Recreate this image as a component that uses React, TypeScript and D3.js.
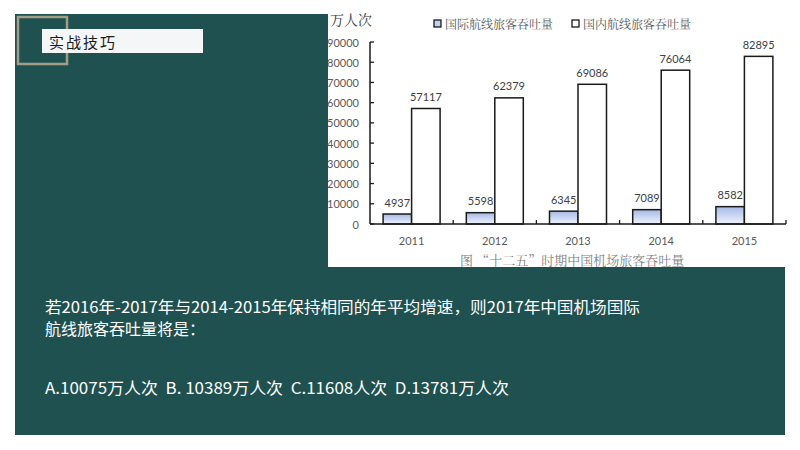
import * as d3 from "d3";

const years = ["2011", "2012", "2013", "2014", "2015"];
const seriesNames = ["国际航线旅客吞吐量", "国内航线旅客吞吐量"];
const international = [4937, 5598, 6345, 7089, 8582];
const domestic = [57117, 62379, 69086, 76064, 82895];
const yTicks = [0, 10000, 20000, 30000, 40000, 50000, 60000, 70000, 80000, 90000];

const unitLabel = "万人次";
const caption = "图  “十二五”时期中国机场旅客吞吐量";
const badge = "实战技巧";
const questionLines = [
  "若2016年-2017年与2014-2015年保持相同的年平均增速，则2017年中国机场国际",
  "航线旅客吞吐量将是：",
];
const optionsLine = "A.10075万人次  B. 10389万人次  C.11608人次  D.13781万人次";

const W = 800;
const H = 450;
const teal = "#1f5150";
const axisColor = "#1a1a1a";
const labelColor = "#595959";
const serif = "'Noto Serif CJK SC', 'Noto Sans CJK SC', serif";
const numFont = "Lato, 'Liberation Sans', sans-serif";
const sans = "'Noto Sans CJK SC', 'Liberation Sans', sans-serif";

export default function App() {
  const plot = { left: 370, right: 786, top: 42, bottom: 224 };

  const x = d3.scaleBand<string>().domain(years).range([plot.left, plot.right]).padding(0);
  const inner = d3
    .scaleBand<string>()
    .domain(seriesNames)
    .range([0, x.bandwidth()])
    .paddingInner(0)
    .paddingOuter(0.46);
  const y = d3.scaleLinear().domain([0, 90000]).range([plot.bottom, plot.top]);

  const series = [
    { name: seriesNames[0], values: international, fill: "url(#intlGrad)" },
    { name: seriesNames[1], values: domestic, fill: "#ffffff" },
  ];

  const boundaries = years.map((yr) => (x(yr) as number) + x.bandwidth()).filter((_, i) => i >= 0);

  return (
    <svg
      width={W}
      height={H}
      style={{ position: "absolute", left: 0, top: 0, background: "#ffffff" }}
    >
      <defs>
        <linearGradient id="intlGrad" x1="0" y1="0" x2="0" y2="1">
          <stop offset="0%" stopColor="#a6b9e6" />
          <stop offset="100%" stopColor="#eef2fb" />
        </linearGradient>
      </defs>

      {/* dark panel */}
      <rect x={15} y={14} width={770} height={421} fill={teal} />

      {/* badge */}
      <rect x={18} y={17} width={49} height={47} fill="none" stroke="#a39c86" strokeWidth={2.5} />
      <rect x={42} y={29} width={161} height={24} fill="#f4f6f8" />
      <text
        x={49}
        y={41}
        dominantBaseline="central"
        fontFamily={sans}
        fontSize={15}
        letterSpacing={2}
        fill="#1c1c1c"
      >
        {badge}
      </text>

      {/* chart area */}
      <rect x={328} y={0} width={W - 328} height={267} fill="#ffffff" />

      <text x={330} y={19} dominantBaseline="central" fontFamily={serif} fontSize={14} fill="#404040">
        {unitLabel}
      </text>

      {/* legend */}
      {series.map((s, i) => {
        const lx = i === 0 ? 434 : 572;
        return (
          <g key={s.name}>
            <rect x={lx} y={20} width={7} height={7} fill={i === 0 ? "#c3d0f0" : "#fff"} stroke={axisColor} strokeWidth={1.3} />
            <text x={lx + 11} y={23.5} dominantBaseline="central" fontFamily={serif} fontSize={12} fill={labelColor}>
              {s.name}
            </text>
          </g>
        );
      })}

      {/* y axis */}
      <line x1={plot.left} x2={plot.left} y1={plot.top} y2={plot.bottom} stroke={axisColor} strokeWidth={1.5} />
      {yTicks.map((t) => (
        <g key={t}>
          <line x1={plot.left} x2={plot.left + 4} y1={y(t)} y2={y(t)} stroke={axisColor} strokeWidth={1.3} />
          <text
            x={359}
            y={y(t)}
            textAnchor="end"
            dominantBaseline="central"
            fontFamily={numFont}
            fontSize={11}
            fill={labelColor}
          >
            {t}
          </text>
        </g>
      ))}

      {/* bars */}
      {series.map((s) =>
        s.values.map((v, i) => (
          <rect
            key={s.name + i}
            x={(x(years[i]) as number) + (inner(s.name) as number)}
            y={y(v)}
            width={inner.bandwidth()}
            height={y(0) - y(v)}
            fill={s.fill}
            stroke={axisColor}
            strokeWidth={1.5}
          />
        ))
      )}

      {/* value labels */}
      {series.map((s) =>
        s.values.map((v, i) => (
          <text
            key={"l" + s.name + i}
            x={(x(years[i]) as number) + (inner(s.name) as number) + inner.bandwidth() / 2}
            y={y(v) - 12}
            textAnchor="middle"
            dominantBaseline="central"
            fontFamily={numFont}
            fontSize={11}
            fill="#404040"
          >
            {v}
          </text>
        ))
      )}

      {/* x axis */}
      <line x1={plot.left} x2={plot.right} y1={plot.bottom} y2={plot.bottom} stroke={axisColor} strokeWidth={1.5} />
      {boundaries.map((bx, i) => (
        <line key={i} x1={bx} x2={bx} y1={plot.bottom} y2={plot.bottom - 4} stroke={axisColor} strokeWidth={1.3} />
      ))}
      {years.map((yr) => (
        <text
          key={yr}
          x={(x(yr) as number) + x.bandwidth() / 2}
          y={240}
          textAnchor="middle"
          dominantBaseline="central"
          fontFamily={numFont}
          fontSize={11}
          fill={labelColor}
        >
          {yr}
        </text>
      ))}

      <text x={460} y={259} dominantBaseline="central" fontFamily={serif} fontSize={13} fill="#7f7f7f">
        {caption}
      </text>

      {/* question */}
      <text
        x={45}
        y={306}
        dominantBaseline="central"
        fontFamily={sans}
        fontSize={16}
        fill="#ffffff"
        textLength={595}
        lengthAdjust="spacingAndGlyphs"
      >
        {questionLines[0]}
      </text>
      <text x={45} y={328} dominantBaseline="central" fontFamily={sans} fontSize={16} fill="#ffffff">
        {questionLines[1]}
      </text>
      <text
        x={45}
        y={387}
        dominantBaseline="central"
        fontFamily={sans}
        fontSize={16}
        fill="#ffffff"
        textLength={464}
        lengthAdjust="spacingAndGlyphs"
        style={{ whiteSpace: "pre" }}
      >
        {optionsLine}
      </text>
    </svg>
  );
}
